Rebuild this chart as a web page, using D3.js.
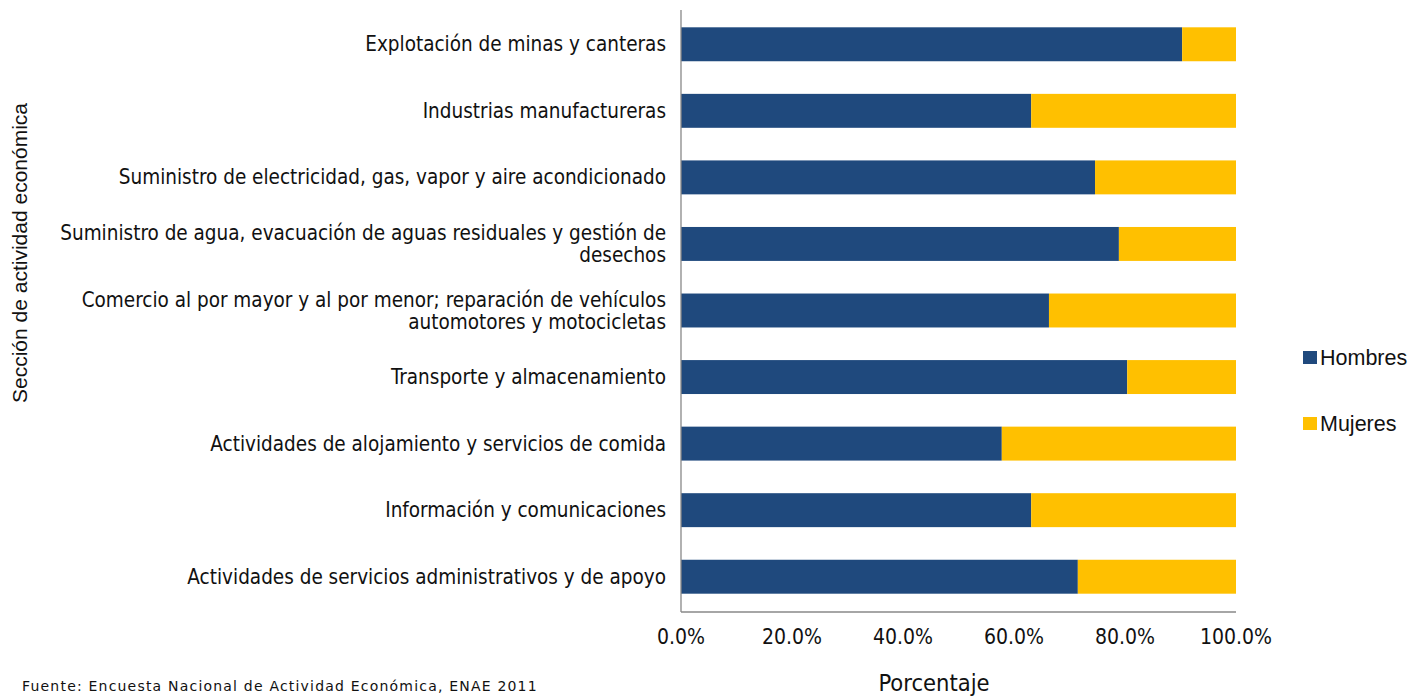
<!DOCTYPE html>
<html>
<head>
<meta charset="utf-8">
<script src="https://cdn.jsdelivr.net/npm/d3@7"></script>
<style>
  body { margin: 0; background: #fff; }
  svg text { font-family: "DejaVu Sans Condensed", "Liberation Sans", Arial, sans-serif; fill: #111; }
</style>
</head>
<body>
<svg id="chart" width="1424" height="696"></svg>
<script>
const categories = [
  ["Explotación de minas y canteras"],
  ["Industrias manufactureras"],
  ["Suministro de electricidad, gas, vapor y aire acondicionado"],
  ["Suministro de agua, evacuación de aguas residuales y gestión de", "desechos"],
  ["Comercio al por mayor y al por menor; reparación de vehículos", "automotores y motocicletas"],
  ["Transporte y almacenamiento"],
  ["Actividades de alojamiento y servicios de comida"],
  ["Información y comunicaciones"],
  ["Actividades de servicios administrativos y de apoyo"],
];
const hombres = [90.3, 63.1, 74.6, 78.9, 66.3, 80.4, 57.8, 63.1, 71.5];
const mujeres = hombres.map(v => 100 - v);
const seriesNames = ["Hombres", "Mujeres"];
const seriesColors = ["#1f497d", "#ffc000"];
const xTicks = [0, 20, 40, 60, 80, 100];

const svg = d3.select("#chart");
const m = { left: 681, right: 1236, top: 10, bottom: 612 };

const x = d3.scaleLinear().domain([0, 100]).range([m.left, m.right]);
const y = d3.scaleBand().domain(d3.range(categories.length)).range([11, 610]).paddingInner(0.49).paddingOuter(0.245);

const rows = categories.map((c, i) => ({ i, h: hombres[i], w: mujeres[i] }));

// bars
const g = svg.append("g");
g.selectAll("rect.h").data(rows).join("rect")
  .attr("x", x(0)).attr("y", d => y(d.i))
  .attr("width", d => x(d.h) - x(0)).attr("height", y.bandwidth())
  .attr("fill", seriesColors[0]);
g.selectAll("rect.w").data(rows).join("rect")
  .attr("x", d => x(d.h)).attr("y", d => y(d.i))
  .attr("width", d => x(d.h + d.w) - x(d.h)).attr("height", y.bandwidth())
  .attr("fill", seriesColors[1]);

// axes lines
svg.append("line").attr("x1", m.left).attr("x2", m.left).attr("y1", m.top).attr("y2", m.bottom)
  .attr("stroke", "#888").attr("stroke-width", 1.3);
svg.append("line").attr("x1", m.left).attr("x2", m.right).attr("y1", m.bottom).attr("y2", m.bottom)
  .attr("stroke", "#888").attr("stroke-width", 1.3);

// x tick labels
svg.append("g").selectAll("text").data(xTicks).join("text")
  .attr("x", d => x(d)).attr("y", 644)
  .attr("text-anchor", "middle").attr("font-size", 21)
  .text(d => d.toFixed(1) + "%");

// category labels
const lab = svg.append("g").selectAll("text").data(categories).join("text")
  .attr("text-anchor", "end").attr("font-size", 20.5);
lab.each(function(lines, i) {
  const t = d3.select(this);
  const cy = y(i) + y.bandwidth() / 2;
  const lh = 22;
  const y0 = cy - (lines.length - 1) * lh / 2 + 7;
  lines.forEach((l, k) => {
    t.append("tspan").attr("x", 666).attr("y", y0 + k * lh).text(l);
  });
});

// axis titles
svg.append("text").attr("x", 934).attr("y", 691).attr("text-anchor", "middle")
  .attr("font-size", 23.5).text("Porcentaje");
svg.append("text").attr("transform", "translate(27,253) rotate(-90)").attr("text-anchor", "middle")
  .attr("font-size", 21).style("font-family", "'Liberation Sans', Arial, sans-serif")
  .text("Sección de actividad económica");

// source
svg.append("text").attr("x", 22).attr("y", 691).attr("font-size", 14)
  .style("font-family", "'DejaVu Sans', sans-serif").attr("letter-spacing", 1.2)
  .text("Fuente: Encuesta Nacional de Actividad Económica, ENAE 2011");

// legend
const leg = svg.append("g").selectAll("g").data(seriesNames).join("g")
  .attr("transform", (d, i) => `translate(1303,${351 + i * 66})`);
leg.append("rect").attr("width", 14).attr("height", 13).attr("fill", (d, i) => seriesColors[i]);
leg.append("text").attr("x", 17).attr("y", 14).attr("font-size", 21.5)
  .style("font-family", "'Liberation Sans', Arial, sans-serif").text(d => d);
</script>
</body>
</html>
